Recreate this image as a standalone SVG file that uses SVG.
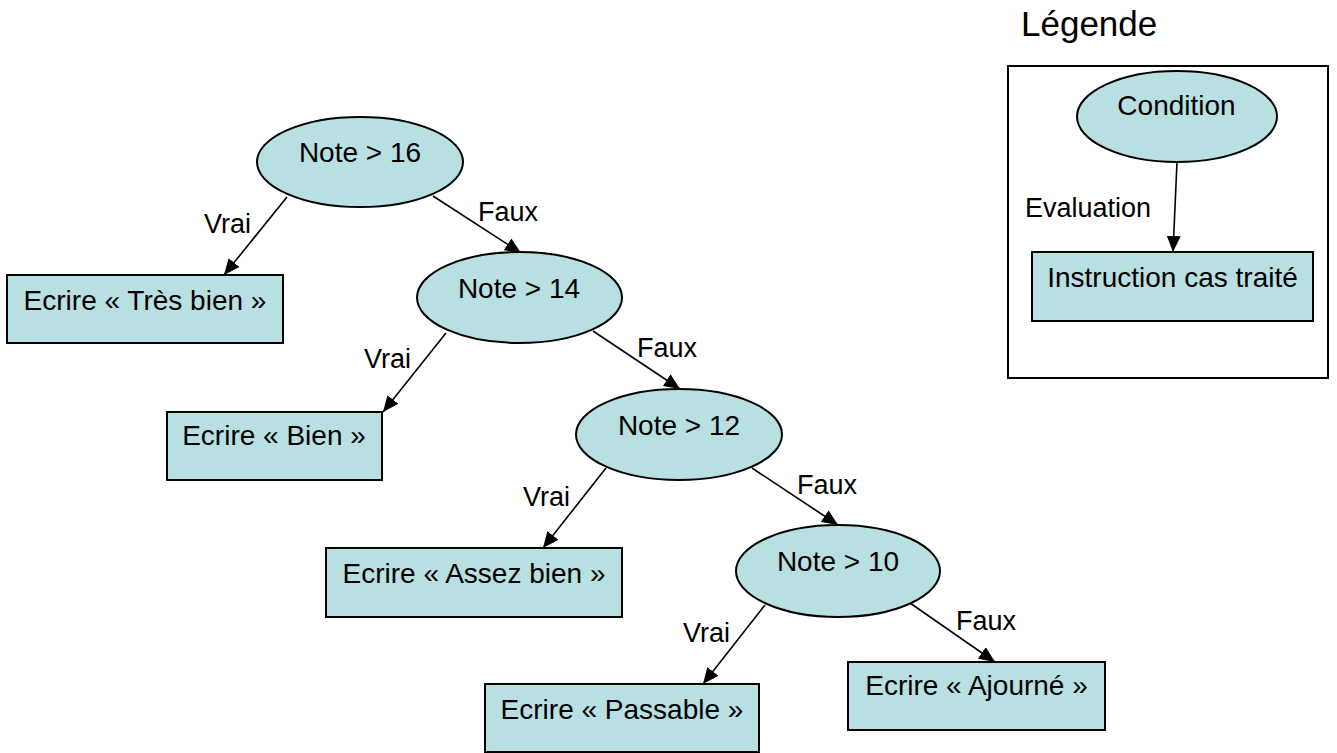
<svg xmlns="http://www.w3.org/2000/svg" width="1337" height="753" viewBox="0 0 1337 753">
<defs>
<marker id="ah" viewBox="0 0 16 14" refX="16" refY="7" markerWidth="16" markerHeight="14" markerUnits="userSpaceOnUse" orient="auto">
<path d="M0,0 L16,7 L0,14 Z" fill="#000"/>
</marker>
<style>
.n{fill:#B8DFE2;stroke:#000;stroke-width:2}
.t{font-family:"Liberation Sans",Arial,sans-serif;font-size:28px;fill:#000;text-anchor:middle}
.l{font-family:"Liberation Sans",Arial,sans-serif;font-size:27px;fill:#000}
.e{stroke:#000;stroke-width:1.6;fill:none;marker-end:url(#ah)}
</style>
</defs>
<rect width="1337" height="753" fill="#fff"/>
<g id="connectors">
<line class="e" x1="287" y1="197" x2="224" y2="275"/>
<line class="e" x1="433" y1="196" x2="521" y2="253"/>
<line class="e" x1="446" y1="333" x2="383" y2="412"/>
<line class="e" x1="593" y1="331" x2="680" y2="389"/>
<line class="e" x1="606" y1="468" x2="543" y2="548"/>
<line class="e" x1="752" y1="468" x2="838" y2="525"/>
<line class="e" x1="765" y1="605" x2="703" y2="684"/>
<line class="e" x1="910" y1="603" x2="995" y2="662"/>
<line class="e" x1="1177" y1="162" x2="1173" y2="252"/>
<text class="l" x="204" y="233">Vrai</text>
<text class="l" x="478" y="221">Faux</text>
<text class="l" x="364" y="368">Vrai</text>
<text class="l" x="637" y="357">Faux</text>
<text class="l" x="523" y="506">Vrai</text>
<text class="l" x="797" y="494">Faux</text>
<text class="l" x="683" y="642">Vrai</text>
<text class="l" x="956" y="630">Faux</text>
<text class="l" x="1025" y="217">Evaluation</text>
</g>
<g id="n16"><ellipse class="n" cx="360" cy="162" rx="103" ry="45"/><text class="t" x="360" y="162">Note &gt; 16</text></g>
<g id="trb"><rect class="n" x="7" y="275" width="276" height="68"/><text class="t" x="145" y="310">Ecrire « Très bien »</text></g>
<g id="n14"><ellipse class="n" cx="519.5" cy="297.5" rx="102.5" ry="45.5"/><text class="t" x="519" y="298">Note &gt; 14</text></g>
<g id="bien"><rect class="n" x="167" y="412" width="215" height="68"/><text class="t" x="274" y="445">Ecrire « Bien »</text></g>
<g id="n12"><ellipse class="n" cx="679" cy="434.5" rx="103" ry="45.5"/><text class="t" x="679" y="435">Note &gt; 12</text></g>
<g id="ab"><rect class="n" x="326" y="548" width="296" height="69"/><text class="t" x="474" y="583">Ecrire « Assez bien »</text></g>
<g id="n10"><ellipse class="n" cx="838" cy="571" rx="102" ry="46"/><text class="t" x="838" y="571">Note &gt; 10</text></g>
<g id="pass"><rect class="n" x="485" y="684" width="274" height="68"/><text class="t" x="622" y="719">Ecrire « Passable »</text></g>
<g id="ajo"><rect class="n" x="848" y="662" width="257" height="68"/><text class="t" x="976.5" y="695">Ecrire « Ajourné »</text></g>
<g id="legend">
<text x="1021" y="36" style="font-family:'Liberation Sans',Arial,sans-serif;font-size:35px">Légende</text>
<rect x="1008" y="66" width="320" height="312" fill="none" stroke="#000" stroke-width="2"/>
<ellipse class="n" cx="1177" cy="116.5" rx="100" ry="45.5"/><text class="t" x="1176.5" y="115">Condition</text>
<rect class="n" x="1032" y="252" width="281" height="69"/><text class="t" x="1172.5" y="287">Instruction cas traité</text>
</g>
</svg>
